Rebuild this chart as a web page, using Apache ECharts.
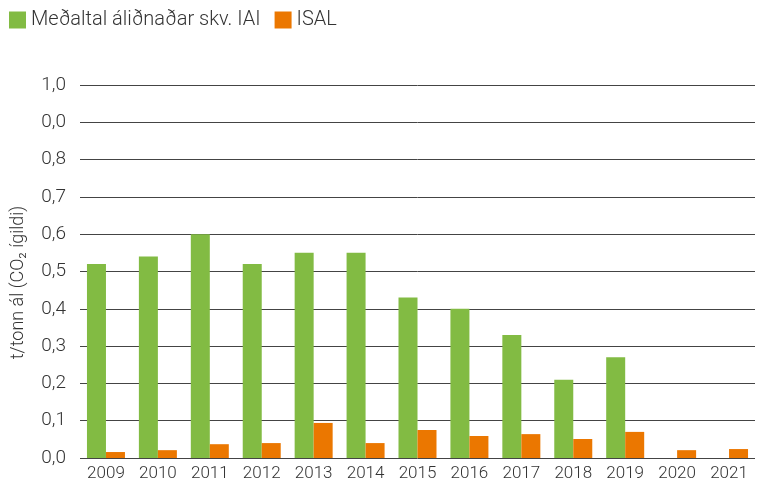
<!DOCTYPE html>
<html>
<head>
<meta charset="utf-8">
<script src="https://cdn.jsdelivr.net/npm/echarts@6/dist/echarts.min.js"></script>
<style>
  html, body { margin: 0; padding: 0; background: #fff; }
  #chart { width: 766px; height: 493px; }
</style>
</head>
<body>
<div id="chart"></div>
<script>
var years = ['2009', '2010', '2011', '2012', '2013', '2014', '2015', '2016', '2017', '2018', '2019', '2020', '2021'];
var iaiAvg = [0.52, 0.54, 0.60, 0.52, 0.55, 0.55, 0.43, 0.40, 0.33, 0.21, 0.27, null, null];
var isal = [0.016, 0.021, 0.037, 0.04, 0.094, 0.04, 0.075, 0.059, 0.064, 0.051, 0.07, 0.021, 0.024];
// tick labels as printed in the source (including its "0,0" at 0.9)
var yTickLabels = ['0,0', '0,1', '0,2', '0,3', '0,4', '0,5', '0,6', '0,7', '0,8', '0,0', '1,0'];

var chart = echarts.init(document.getElementById('chart'));
var font = 'Roboto, "Noto Sans", sans-serif';

chart.setOption({
    animation: false,
    color: ['#82bb43', '#eb7700'],
    textStyle: { fontFamily: font },
    legend: {
        left: 4,
        top: 5,
        itemWidth: 17,
        itemHeight: 17,
        itemGap: 14,
        icon: 'rect',
        textStyle: { fontSize: 20, color: '#333', fontWeight: 300, fontFamily: font },
        data: ['Meðaltal áliðnaðar skv. IAI', 'ISAL']
    },
    grid: { left: 80, right: 11, top: 85, bottom: 35, outerBoundsMode: 'none' },
    xAxis: {
        type: 'category',
        data: years,
        axisLine: { show: false },
        axisTick: { show: false },
        axisLabel: { color: '#333', fontSize: 17, fontWeight: 300, margin: 7, fontFamily: font }
    },
    yAxis: {
        type: 'value',
        min: 0,
        max: 1,
        interval: 0.1,
        name: 't/tonn ál (CO₂ ígildi)',
        nameLocation: 'middle',
        nameGap: 53,
        nameTextStyle: { fontSize: 18, color: '#333', fontWeight: 300, fontFamily: font, padding: [0, 0, 0, -22] },
        axisLine: { show: false },
        axisTick: { show: false },
        axisLabel: {
            color: '#333',
            fontSize: 19,
            fontWeight: 300,
            margin: 14,
            fontFamily: font,
            formatter: function (v) { return yTickLabels[Math.round(v * 10)]; }
        },
        splitLine: {
            show: true,
            lineStyle: { color: '#444', width: 1 }
        }
    },
    series: [
        {
            name: 'Meðaltal áliðnaðar skv. IAI',
            type: 'bar',
            data: iaiAvg,
            barWidth: 19,
            barGap: '0%'
        },
        {
            name: 'ISAL',
            type: 'bar',
            data: isal,
            barWidth: 19,
            barGap: '0%'
        }
    ]
});
</script>
</body>
</html>
